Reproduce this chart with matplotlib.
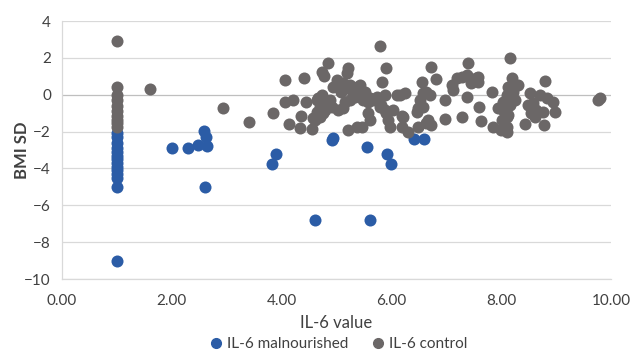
import matplotlib
matplotlib.use("Agg")
import matplotlib.pyplot as plt
from matplotlib.lines import Line2D

# IL-6 malnourished series
mal_x = [1, 1, 1, 1, 1, 1, 1, 1, 1, 1, 1, 1, 1, 1,
         2.0, 2.29, 2.47, 2.59, 2.62, 2.65, 2.6,
         3.83, 3.90, 4.91, 4.94, 4.61, 5.61, 5.56, 5.93, 5.99, 6.41, 6.59]
mal_y = [-2.05, -2.3, -2.6, -2.9, -3.1, -3.3, -3.5, -3.7, -3.9, -4.1, -4.3, -4.5, -5.0, -9.0,
         -2.9, -2.9, -2.73, -1.95, -2.31, -2.77, -4.99,
         -3.78, -3.24, -2.46, -2.37, -6.82, -6.82, -2.86, -3.22, -3.78, -2.40, -2.40]

# IL-6 control series
ctrl_pts = [
    (1, 2.93), (1, 0.4), (1, 0.0), (1, -0.3), (1, -0.6), (1, -0.9), (1, -1.15), (1, -1.35),
    (1, -1.55), (1, -1.75),
    (1.60, 0.30), (2.94, -0.74), (3.41, -1.46), (3.85, -1.01),
    (4.06, 0.80), (4.41, 0.89), (4.06, -0.38), (4.21, -0.29), (4.14, -1.61), (4.35, -1.16),
    (4.34, -1.79), (4.55, -1.88), (4.45, -0.38),
    (4.84, 1.70), (4.73, 1.22), (4.78, 1.04), (5.21, 1.46), (5.19, 1.16), (5.01, 0.80),
    (5.80, 2.62), (5.90, 1.47), (5.83, 0.71),
    (4.67, -0.20), (4.73, -0.02), (4.88, -0.29), (4.64, -0.92), (4.70, -1.19), (4.79, -0.83),
    (4.61, -1.37), (4.82, -0.56), (4.91, -0.65),
    (4.64, -0.29), (4.73, -0.11), (4.82, -0.47), (4.70, -0.65), (4.58, -1.28), (4.76, -1.01),
    (4.94, 0.43), (5.03, 0.53), (5.12, 0.62),
    (5.03, 0.43), (5.09, 0.16), (5.19, 0.35), (5.25, 0.53), (5.37, 0.43), (5.43, 0.53),
    (5.52, 0.16), (5.43, -0.02), (5.31, -0.02), (5.25, -0.29), (5.49, -0.29), (5.58, -0.38),
    (5.67, -0.29), (5.73, -0.11),
    (5.03, -0.83), (5.12, -0.74), (5.16, -0.38), (5.34, -0.11), (5.40, 0.26), (5.55, -0.11),
    (5.61, -0.20),
    (5.21, -1.92), (5.37, -1.74), (5.46, -1.74),
    (5.58, -1.01), (5.61, -1.37), (5.79, -0.65), (5.88, -0.02), (5.91, -1.01), (5.94, -1.37),
    (5.97, -1.74), (6.03, -0.83), (6.10, -0.02), (5.82, -0.56), (5.88, -0.83),
    (6.16, -0.02), (6.25, 0.07), (6.19, -1.74), (6.31, -2.01), (6.20, -1.16), (6.22, -1.19),
    (6.49, -1.74), (6.67, -1.37), (6.73, -1.64), (6.64, -1.55),
    (6.49, -0.74), (6.52, -0.29), (6.58, 0.07), (6.64, 0.16), (6.70, -0.02), (6.55, 0.71),
    (6.73, 1.49), (6.82, 0.84), (6.58, -0.65), (6.46, -0.92),
    (6.98, -0.29), (6.98, -1.30),
    (7.13, 0.26), (7.10, 0.53), (7.19, 0.89), (7.28, 0.98), (7.37, 1.07), (7.46, 0.80),
    (7.55, 0.89), (7.58, 0.98), (7.40, 1.72), (7.37, -0.11), (7.46, 0.62), (7.58, 0.71),
    (7.28, -1.19), (7.60, -0.68), (7.64, -1.41), (7.84, 0.16), (7.86, -1.74),
    (7.95, -0.74), (7.99, -1.92), (8.07, -0.47), (8.10, -1.19), (8.04, -0.83),
    (8.16, 1.97), (8.19, 0.89), (8.13, 0.43), (8.31, 0.53), (8.80, 0.76),
    (8.22, 0.16), (8.10, -0.02), (8.25, -0.29), (8.04, -0.38), (8.16, -0.56), (8.13, -1.10),
    (8.01, -1.37), (8.10, -1.74), (8.10, -2.01),
    (8.52, 0.07), (8.71, -0.02), (8.83, -0.20), (8.95, -0.38),
    (8.49, -0.56), (8.58, -0.47), (8.64, -0.83), (8.55, -1.01), (8.61, -1.23), (8.77, -0.92),
    (8.98, -0.92), (8.43, -1.59), (8.78, -1.63),
    (9.77, -0.29), (9.80, -0.20),
]
ctrl_x = [p[0] for p in ctrl_pts]
ctrl_y = [p[1] for p in ctrl_pts]

x_ticks = [0, 2, 4, 6, 8, 10]
y_ticks = [4, 2, 0, -2, -4, -6, -8, -10]

blue = "#2b5ca6"
grey = "#6b6767"
text_col = "#404040"

plt.rcParams['font.family'] = ['Lato', 'DejaVu Sans']

fig = plt.figure(figsize=(6.33, 3.51), dpi=100)
ax = fig.add_axes([0.098, 0.205, 0.867, 0.735])

ax.scatter(mal_x, mal_y, s=75, color=blue, linewidths=0, zorder=3)
ax.scatter(ctrl_x, ctrl_y, s=75, color=grey, linewidths=0, zorder=3)

ax.set_xlim(0, 10)
ax.set_ylim(-10, 4)
ax.set_xticks(x_ticks)
ax.set_xticklabels([f"{v:.2f}" for v in x_ticks])
ax.set_yticks(y_ticks)

for yv in y_ticks:
    ax.axhline(yv, color="#bfbfbf" if yv == 0 else "#d9d9d9", lw=0.9, zorder=1)

for side in ["top", "right"]:
    ax.spines[side].set_visible(False)
for side in ["left", "bottom"]:
    ax.spines[side].set_color("#d9d9d9")
    ax.spines[side].set_linewidth(0.9)

ax.tick_params(axis="both", length=0, labelsize=11, colors=text_col)
ax.tick_params(axis="x", pad=11)
ax.tick_params(axis="y", pad=8)

ax.set_xlabel("IL-6 value", fontsize=12, color=text_col, labelpad=5)
ax.set_ylabel("BMI SD", fontsize=12, color=text_col, fontweight="bold", labelpad=-4)

handles = [
    Line2D([], [], marker="o", ls="", color=blue, markersize=7, label="IL-6 malnourished"),
    Line2D([], [], marker="o", ls="", color=grey, markersize=7, label="IL-6 control"),
]
leg = fig.legend(handles=handles, loc="center", bbox_to_anchor=(0.535, 0.02), ncol=2,
                 frameon=False, fontsize=11, handlelength=0.8, handletextpad=0.3,
                 columnspacing=1.6)
for t in leg.get_texts():
    t.set_color(text_col)

fig.savefig("out.png", dpi=100)
